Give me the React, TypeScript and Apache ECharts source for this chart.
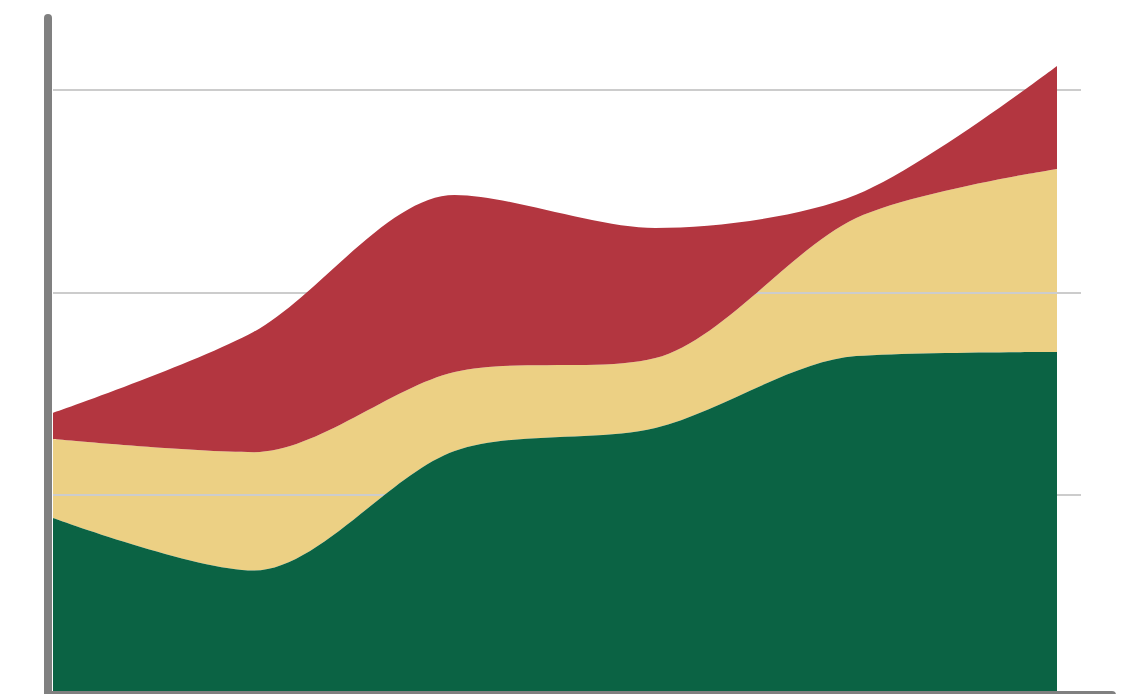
import React, { useEffect, useRef } from "react";
import * as echarts from "echarts";

const categories = ["1", "2", "3", "4", "5", "6"];
const greenValues = [88.5, 62.5, 121.6, 133, 168.5, 170.5];
const yellowValues = [39, 58.5, 39, 34.5, 68.2, 90.5];
const redValues = [12.9, 59.5, 87.5, 64.3, 11.5, 50.9];
const yTicks = [0, 100, 200, 300];

export default function App() {
  const ref = useRef<HTMLDivElement>(null);
  useEffect(() => {
    if (!ref.current) return;
    const chart = echarts.init(ref.current, undefined, { renderer: "svg" });
    const areaSeries = (name: string, vals: number[], color: string, z: number) => ({
      name,
      type: "line",
      stack: "total",
      smooth: 0.3,
      showSymbol: false,
      symbol: "none",
      clip: false,
      z,
      xAxisIndex: 0,
      yAxisIndex: 0,
      lineStyle: { width: 0, color },
      itemStyle: { color },
      areaStyle: { color, opacity: 1 },
      data: vals,
    });
    const hidden = {
      axisLine: { show: false },
      axisTick: { show: false },
      axisLabel: { show: false },
      splitLine: { show: false },
    };
    const axisLineStyle = {
      show: true,
      lineStyle: { color: "#808080", width: 8, cap: "round" },
    };
    chart.setOption({
      animation: false,
      grid: [
        { left: 53, top: 90, width: 1004, height: 607 },
        { left: 48, top: 18, width: 1064, height: 677 },
        { left: 53, top: 90, width: 1028, height: 607 },
      ],
      xAxis: [
        { type: "category", gridIndex: 0, data: categories, boundaryGap: false, ...hidden },
        { type: "value", gridIndex: 1, min: 0, max: 1, z: 10, ...hidden, axisLine: axisLineStyle },
        { type: "value", gridIndex: 2, min: 0, max: 1, ...hidden },
      ],
      yAxis: [
        {
          type: "value",
          gridIndex: 0,
          min: yTicks[0],
          max: yTicks[yTicks.length - 1],
          interval: 100,
          ...hidden,
        },
        { type: "value", gridIndex: 1, min: 0, max: 1, z: 10, ...hidden, axisLine: axisLineStyle },
        {
          type: "value",
          gridIndex: 2,
          min: yTicks[0],
          max: yTicks[yTicks.length - 1],
          interval: 100,
          z: 1.5,
          ...hidden,
          splitLine: {
            show: true,
            showMinLine: false,
            lineStyle: { color: "#cccccc", width: 2 },
          },
        },
      ],
      series: [
        areaSeries("Green", greenValues, "#0b6344", 2),
        areaSeries("Yellow", yellowValues, "#ecd084", 1),
        areaSeries("Red", redValues, "#b33640", 2),
      ],
    });
    return () => chart.dispose();
  }, []);
  return (
    <div
      style={{
        position: "fixed",
        left: 0,
        top: 0,
        width: 1121,
        height: 694,
        overflow: "hidden",
        background: "#fff",
      }}
    >
      <div ref={ref} style={{ width: 1121, height: 720 }} />
    </div>
  );
}
